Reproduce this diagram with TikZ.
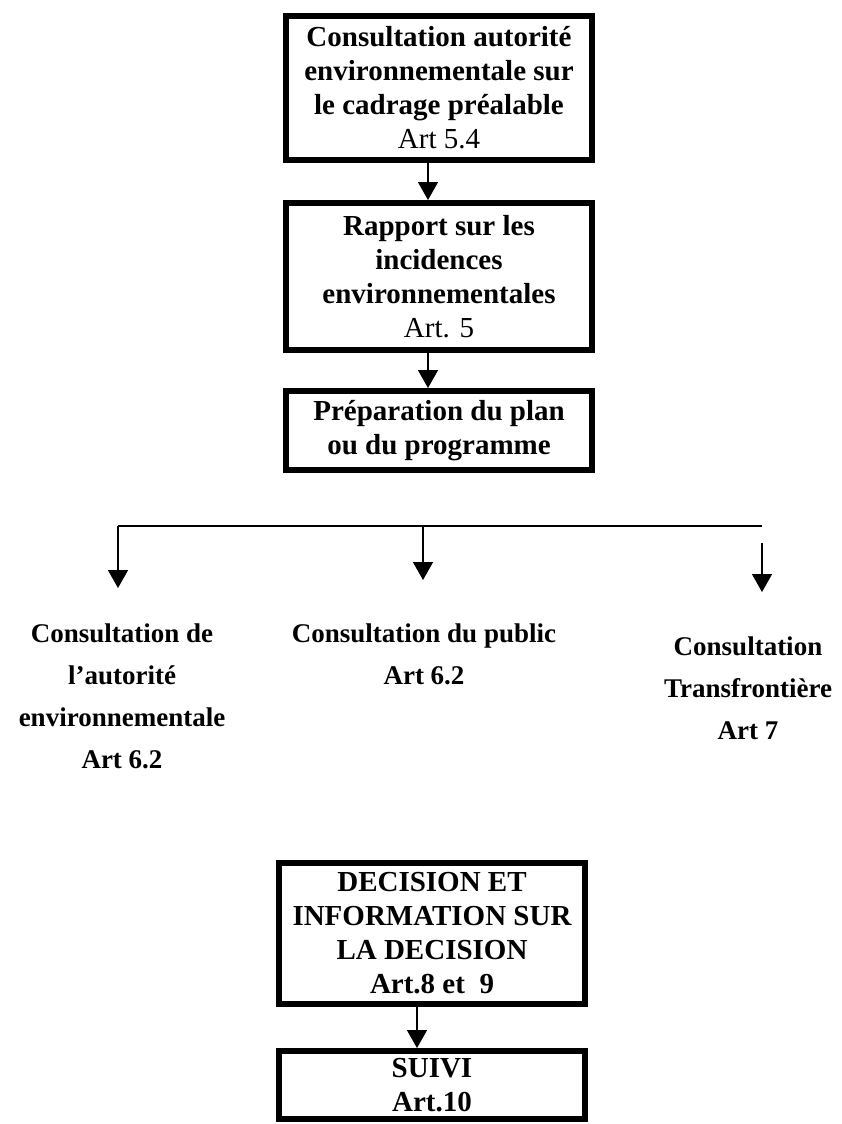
\documentclass[tikz,border=0pt]{standalone}
\usepackage{fontspec}
\setmainfont{Liberation Serif}
\usetikzlibrary{arrows.meta,positioning}

\begin{document}
\begin{tikzpicture}[
  x=1pt, y=-1pt,
  node distance=37pt,
  stepbox/.style={draw=black,line width=6pt,align=center,
    font=\fontsize{29}{34}\selectfont\bfseries,inner sep=4pt,
    minimum width=306pt},
  consult/.style={align=center,font=\fontsize{27}{42}\selectfont\bfseries,
    inner sep=0pt,anchor=north},
  arrow/.style={-{Triangle[width=20pt,length=18pt]},line width=1.5pt,draw=black},
  link/.style={line width=1.5pt,draw=black}
]
\useasboundingbox (0,0) rectangle (842,1124);
% upper chain
\node[stepbox, minimum height=144pt] (cadrage) at (439,88) {Consultation autorit\'e\\
environnementale sur\\ le cadrage pr\'ealable\\ {\mdseries Art 5.4}};
\node[stepbox, minimum height=147pt, below=of cadrage] (rapport) {Rapport sur les\\
incidences\\ environnementales\\ {\mdseries Art. 5}};
\node[stepbox, minimum height=79pt, below=35pt of rapport] (preparation) {Pr\'eparation du plan\\
ou du programme};
\draw[arrow] ([xshift=-11pt]cadrage.south) -- ([xshift=-11pt]rapport.north);
\draw[arrow] ([xshift=-11pt]rapport.south) -- ([xshift=-11pt]preparation.north);
% consultations
\coordinate (splitL) at (118,526);
\coordinate (splitM) at (423,526);
\coordinate (splitR) at (762,526);
\coordinate (startR) at (762,543);
\coordinate (tipL) at (118,588);
\coordinate (tipM) at (423,580);
\coordinate (tipR) at (762,592);
\draw[link] (splitL) -- (splitR);
\draw[arrow] (splitL) -- (tipL);
\draw[arrow] (splitM) -- (tipM);
\draw[arrow] (startR) -- (tipR);
\node[consult] (autorite) at (122,624) {Consultation de\\ l’autorit\'e\\
environnementale\\ Art 6.2};
\node[consult] (public) at (424,624) {Consultation du public\\ Art 6.2};
\node[consult] (transfront) at (748,637) {Consultation\\ Transfronti\`ere\\ Art 7};
% lower chain
\node[stepbox, minimum height=141pt] (decision) at (432,933.5) {DECISION ET\\
INFORMATION SUR\\ LA DECISION\\ Art.8 et~ 9};
\node[stepbox, minimum height=68pt, below=41pt of decision] (suivi) {SUIVI\\ Art.10};
\draw[arrow] ([xshift=-15pt]decision.south) -- ([xshift=-15pt]suivi.north);
\end{tikzpicture}
\end{document}
